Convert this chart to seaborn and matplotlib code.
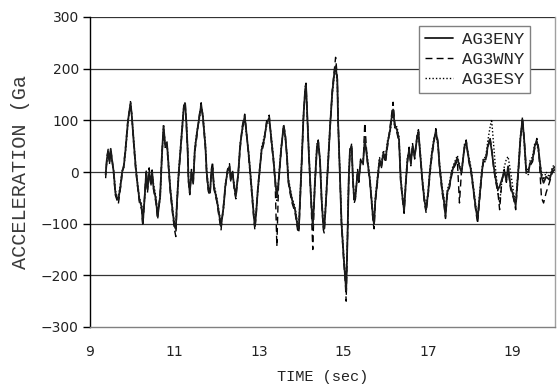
import matplotlib
matplotlib.use("Agg")
import matplotlib.pyplot as plt
from matplotlib.transforms import Bbox, TransformedBbox
import seaborn as sns
import pandas as pd

# Time axis (sec)
time_s = [
    9.37, 9.40, 9.43, 9.46, 9.49, 9.52, 9.56, 9.60, 9.64, 9.67,
    9.72, 9.76, 9.80, 9.84, 9.90, 9.96, 9.99, 10.03, 10.08, 10.12,
    10.17, 10.22, 10.25, 10.30, 10.33, 10.36, 10.40, 10.44, 10.47, 10.50,
    10.56, 10.60, 10.66, 10.70, 10.74, 10.78, 10.82, 10.86, 10.90, 10.96,
    11.00, 11.03, 11.06, 11.10, 11.16, 11.22, 11.25, 11.28, 11.31, 11.33,
    11.36, 11.40, 11.44, 11.48, 11.53, 11.59, 11.63, 11.67, 11.73, 11.76,
    11.80, 11.84, 11.87, 11.90, 11.93, 12.00, 12.05, 12.10, 12.16, 12.20,
    12.25, 12.30, 12.33, 12.37, 12.41, 12.45, 12.51, 12.55, 12.60, 12.66,
    12.70, 12.75, 12.79, 12.83, 12.87, 12.90, 12.93, 12.97, 13.01, 13.06,
    13.12, 13.18, 13.24, 13.29, 13.34, 13.38, 13.42, 13.46, 13.52, 13.58,
    13.62, 13.66, 13.69, 13.73, 13.78, 13.85, 13.91, 13.94, 13.97, 14.01,
    14.05, 14.09, 14.11, 14.14, 14.18, 14.23, 14.27, 14.30, 14.32, 14.37,
    14.40, 14.44, 14.48, 14.52, 14.54, 14.57, 14.62, 14.68, 14.73, 14.78,
    14.81, 14.85, 14.87, 14.91, 14.95, 15.00, 15.04, 15.06, 15.09, 15.12,
    15.15, 15.19, 15.22, 15.25, 15.28, 15.33, 15.36, 15.40, 15.46, 15.50,
    15.56, 15.62, 15.66, 15.70, 15.72, 15.75, 15.80, 15.85, 15.89, 15.94,
    15.99, 16.04, 16.10, 16.13, 16.17, 16.21, 16.26, 16.31, 16.35, 16.39,
    16.43, 16.47, 16.51, 16.55, 16.59, 16.63, 16.68, 16.74, 16.77, 16.81,
    16.86, 16.91, 16.95, 17.00, 17.04, 17.09, 17.14, 17.18, 17.23, 17.27,
    17.33, 17.37, 17.41, 17.45, 17.50, 17.56, 17.62, 17.69, 17.74, 17.79,
    17.86, 17.90, 17.95, 18.02, 18.08, 18.13, 18.17, 18.21, 18.27, 18.31,
    18.36, 18.41, 18.46, 18.50, 18.55, 18.60, 18.65, 18.69, 18.74, 18.80,
    18.85, 18.89, 18.95, 19.02, 19.07, 19.13, 19.18, 19.23, 19.27, 19.32,
    19.37, 19.41, 19.47, 19.52, 19.57, 19.61, 19.68, 19.73, 19.79, 19.87,
    19.94, 20.00,
]

# Acceleration records (Gal)
ag3eny = [
    -5, 25, 40, 20, 45, 24, 0, -40, -50, -54,
    -28, 0, 11, 43, 100, 134, 108, 63, 11, -21,
    -54, -67, -99, -40, 0, -34, 0, -21, 0, -28,
    -54, -86, -47, 30, 89, 50, 56, 11, -34, -80,
    -105, -110, -54, 0, 63, 127, 133, 95, 43, -15,
    -40, 0, -21, 43, 76, 108, 130, 108, 50, 0,
    -34, -40, 0, 8, -28, -54, -80, -105, -67, -28,
    0, 11, -15, 0, -28, -47, 0, 50, 82, 108,
    76, 37, 0, -40, -80, -105, -80, -34, 0, 43,
    63, 95, 105, 63, 24, -15, -47, -20, 43, 89,
    69, 30, -15, -34, -54, -73, -105, -110, -54, 24,
    108, 160, 168, 108, 30, -54, -105, -60, -21, 50,
    58, 24, -54, -105, -110, -73, 0, 89, 153, 192,
    205, 179, 95, 0, -99, -164, -209, -230, -131, -15,
    43, 50, -15, -54, -47, 0, -15, 20, 17, 63,
    24, -15, -54, -93, -100, -54, -15, 24, 11, 37,
    24, 56, 82, 102, 121, 89, 82, 63, -15, -47,
    -75, -21, 24, 43, 17, 50, 30, 69, 78, 37,
    -15, -54, -73, -40, 0, 37, 63, 79, 56, 11,
    -34, -54, -86, -40, -28, 0, 14, 27, 10, 0,
    50, 58, 30, 0, -40, -73, -90, -54, 0, 24,
    24, 50, 63, 43, 11, -15, -34, -28, -15, 0,
    -15, 11, -28, -47, -65, 0, 63, 102, 63, 0,
    0, 17, 24, 50, 60, 43, -9, -21, -9, -15,
    5, 10,
]

ag3wny = [
    -12, 30, 44, 15, 40, 28, -5, -45, -55, -62,
    -32, -5, 15, 48, 105, 128, 112, 58, 5, -25,
    -60, -72, -105, -35, 5, -40, 8, -28, 4, -33,
    -60, -92, -40, 35, 80, 58, 50, 6, -40, -86,
    -112, -125, -60, -5, 58, 122, 138, 90, 38, -20,
    -44, 5, -25, 38, 70, 112, 134, 104, 45, -6,
    -38, -45, 5, 20, -32, -58, -86, -112, -62, -33,
    4, 16, -20, 5, -34, -52, 5, 45, 88, 112,
    80, 32, -5, -46, -86, -112, -85, -30, 5, 38,
    58, 100, 110, 58, 20, -20, -144, -25, 38, 92,
    74, 25, -20, -40, -60, -78, -112, -118, -60, 18,
    102, 165, 172, 112, 25, -60, -150, -66, -26, 45,
    62, 20, -60, -112, -118, -78, -5, 84, 158, 198,
    222, 185, 100, -5, -105, -170, -215, -250, -138, -20,
    38, 55, -20, -60, -52, 5, -20, 25, 12, 95,
    20, -20, -60, -100, -110, -60, -20, 18, 6, 32,
    18, 50, 88, 108, 135, 94, 76, 58, -20, -52,
    -80, -26, 18, 48, 12, 55, 25, 74, 82, 32,
    -20, -60, -78, -45, -5, 32, 58, 84, 60, 6,
    -40, -60, -90, -45, -32, -5, 10, 22, -60, 5,
    45, 62, 25, -5, -45, -78, -100, -60, -5, 20,
    20, 45, 68, 48, 6, -20, -40, -73, -20, 5,
    -20, 6, -33, -52, -73, -5, 58, 106, 68, 5,
    5, 12, 20, 45, 65, 48, -50, -60, -40, -20,
    0, 5,
]

ag3esy = [
    0, 20, 35, 25, 38, 20, 5, -35, -48, -50,
    -22, 3, 8, 38, 96, 138, 104, 66, 15, -18,
    -50, -62, -92, -45, -5, -28, -6, -15, -5, -22,
    -48, -80, -52, 25, 92, 45, 60, 15, -30, -75,
    -100, -104, -48, 5, 68, 130, 128, 100, 48, -10,
    -35, -4, -15, 48, 80, 104, 125, 112, 55, 5,
    -30, -35, -4, 2, -22, -50, -75, -100, -72, -24,
    -4, 6, -10, -5, -22, -42, -5, 55, 78, 104,
    72, 42, 4, -35, -75, -100, -76, -38, -4, 48,
    68, 90, 100, 68, 28, -10, -55, -15, 48, 84,
    64, 35, -10, -30, -50, -68, -100, -104, -48, 30,
    112, 155, 162, 104, 35, -50, -100, -55, -16, 55,
    54, 28, -50, -100, -104, -68, 5, 94, 148, 188,
    200, 172, 90, 5, -94, -158, -202, -222, -125, -10,
    48, 45, -10, -48, -42, -5, -10, 15, 22, 58,
    30, -10, -48, -88, -94, -48, -10, 28, 16, 42,
    30, 62, 76, 96, 116, 84, 88, 68, -10, -42,
    -70, -16, 30, 38, 22, 45, 35, 64, 72, 42,
    -10, -48, -68, -35, 5, 42, 68, 74, 52, 16,
    -28, -48, -80, -35, -22, 5, 18, 32, 15, -5,
    55, 54, 35, 5, -35, -68, -85, -48, 5, 28,
    28, 60, 85, 102, 50, 0, -40, -60, -20, 10,
    25, 30, 0, -40, -55, 5, 68, 98, 58, -5,
    -5, 22, 30, 55, 55, 38, 0, -15, 0, -10,
    10, 15,
]

series_names = ["AG3ENY", "AG3WNY", "AG3ESY"]
y_ticks = [-300, -200, -100, 0, 100, 200, 300]
x_ticks = [9, 11, 13, 15, 17, 19]

df = pd.DataFrame({
    "time": time_s * 3,
    "acc": ag3eny + ag3wny + ag3esy,
    "series": [n for n in series_names for _ in time_s],
})

sns.set_style("white")
plt.rcParams["font.family"] = ["DejaVu Sans"]

W, H = 558, 386
fig = plt.figure(figsize=(W / 100, H / 100), dpi=100)
left_px, right_px, top_px, bot_px = 90, 555, 17, 327
ax = fig.add_axes([left_px / W, 1 - bot_px / H,
                   (right_px - left_px) / W, (bot_px - top_px) / H])

styles = {
    "AG3ENY": dict(color="#1a1a1a", linestyle="-", linewidth=1.3),
    "AG3WNY": dict(color="#000000", linestyle=(0, (5, 3)), linewidth=1.0),
    "AG3ESY": dict(color="#000000", linestyle=(0, (1, 1.5)), linewidth=1.0),
}
for name in ["AG3ESY", "AG3WNY", "AG3ENY"]:
    sub = df[df["series"] == name]
    sns.lineplot(data=sub, x="time", y="acc", ax=ax, estimator=None,
                 sort=False, label=name, zorder=3, **styles[name])

ax.set_xlim(9, 20)
ax.set_ylim(-300, 300)
ax.set_xticks(x_ticks)
ax.set_yticks(y_ticks)
ax.set_xlabel("")
ax.set_ylabel("")

# horizontal grid
for v in y_ticks[1:]:
    ax.axhline(v, color="#333333", linewidth=0.9, zorder=1)

ax.spines["top"].set_visible(False)
ax.spines["left"].set_color("#000000")
ax.spines["left"].set_linewidth(1.0)
ax.spines["bottom"].set_color("#808080")
ax.spines["bottom"].set_linewidth(1.0)
ax.spines["right"].set_color("#a0a0a0")
ax.spines["right"].set_linewidth(1.0)

ax.tick_params(axis="y", direction="out", length=5, width=1, color="#000000",
               pad=3, labelsize=10, labelcolor="#222222", left=True)
ax.tick_params(axis="x", length=0, pad=13, labelsize=10, labelcolor="#222222")

mono = "Liberation Mono"
fig.text((left_px + right_px) / 2 / W, 1 - 377 / H, "TIME (sec)",
         ha="center", va="center", family=mono, fontsize=11, color="#222222")

ylab = fig.text(21 / W, 1 - 269 / H, "ACCELERATION (Gal)", rotation=90,
                ha="center", va="bottom", family=mono, fontsize=14.5,
                color="#3a3a3a")
ylab.set_clip_box(TransformedBbox(Bbox.from_extents(0, 0, 1, 1 - 74 / H),
                                  fig.transFigure))
ylab.set_clip_on(True)

handles, labels = ax.get_legend_handles_labels()
order = [labels.index(n) for n in series_names]
leg = ax.legend([handles[i] for i in order], [labels[i] for i in order],
                loc="upper right",
                bbox_to_anchor=((530 - left_px) / (right_px - left_px),
                                1 - (26 - top_px) / (bot_px - top_px)),
                prop={"family": mono, "size": 12.5}, frameon=True,
                fancybox=False, shadow=False, framealpha=1,
                edgecolor="#808080", handlelength=1.6, handletextpad=0.5,
                labelspacing=0.28, borderpad=0.35, borderaxespad=0)
leg.get_frame().set_linewidth(1.0)
leg.set_zorder(5)

fig.savefig("out.png", dpi=100)
